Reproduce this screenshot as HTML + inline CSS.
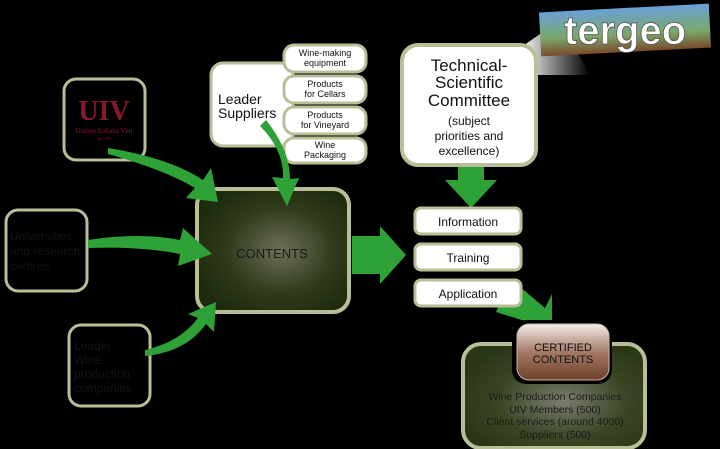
<!DOCTYPE html>
<html><head><meta charset="utf-8"><style>
html,body{margin:0;padding:0;background:#000;}
svg{display:block;}
</style></head><body>
<svg width="720" height="449" viewBox="0 0 720 449" xmlns="http://www.w3.org/2000/svg" font-family="Liberation Sans, sans-serif">
<defs>
<radialGradient id="cg" cx="0.55" cy="0.5" r="0.6">
<stop offset="0" stop-color="#6d6f58"/><stop offset="0.6" stop-color="#2f3a1a"/><stop offset="1" stop-color="#1e2a0e"/></radialGradient>
<radialGradient id="bg2" cx="0.55" cy="0.55" r="0.6">
<stop offset="0" stop-color="#7a7d6e"/><stop offset="0.6" stop-color="#3a4524"/><stop offset="1" stop-color="#2a3716"/></radialGradient>
<linearGradient id="br" x1="0" y1="0" x2="0" y2="1">
<stop offset="0" stop-color="#f4eeea"/><stop offset="0.5" stop-color="#a47a66"/><stop offset="1" stop-color="#6e3f2a"/></linearGradient>
<linearGradient id="tail" x1="0" y1="0" x2="1" y2="0">
<stop offset="0" stop-color="#fff"/><stop offset="1" stop-color="#000"/></linearGradient>
<linearGradient id="sky" x1="0" y1="0" x2="0" y2="1">
<stop offset="0" stop-color="#6aa0d8"/><stop offset="0.6" stop-color="#7aa86a"/><stop offset="1" stop-color="#7a4a2a"/></linearGradient>
</defs>
<!-- source boxes -->
<rect x="64" y="79" width="81" height="81" rx="12" fill="#000" stroke="#b8bf97" stroke-width="3"/>
<text x="104" y="120" font-family="Liberation Serif, serif" font-size="28" fill="#8a1730" text-anchor="middle" font-weight="bold">UIV</text>
<text x="104" y="133" font-family="Liberation Serif, serif" font-size="7" fill="#8a1730" text-anchor="middle">Unione Italiana Vini</text>
<text x="104" y="140" font-family="Liberation Serif, serif" font-size="4" fill="#8a1730" text-anchor="middle">dal 1895</text>
<rect x="6" y="210" width="81" height="81" rx="12" fill="#000" stroke="#b8bf97" stroke-width="3"/>
<text font-size="12" fill="#141414"><tspan x="10" y="240">Universities</tspan><tspan x="10" y="255">and research</tspan><tspan x="10" y="270">centres</tspan></text>
<rect x="69" y="325" width="81" height="81" rx="12" fill="#000" stroke="#b8bf97" stroke-width="3"/>
<text font-size="12" fill="#141414"><tspan x="74" y="350">Leader</tspan><tspan x="74" y="364">Wine</tspan><tspan x="74" y="378">production</tspan><tspan x="74" y="392">companies</tspan></text>
<!-- suppliers -->
<rect x="211" y="63" width="82" height="83" rx="12" fill="#fff" stroke="#b8bf97" stroke-width="3"/>
<text font-size="14" fill="#111"><tspan x="218" y="104">Leader</tspan><tspan x="218" y="118">Suppliers</tspan></text>
<g font-size="9" fill="#111" text-anchor="middle">
<rect x="284" y="45" width="82" height="27" rx="10" fill="#fff" stroke="#b8bf97" stroke-width="3"/>
<text x="325" y="56">Wine-making</text><text x="325" y="66">equipment</text>
<rect x="284" y="76" width="82" height="27" rx="10" fill="#fff" stroke="#b8bf97" stroke-width="3"/>
<text x="325" y="87">Products</text><text x="325" y="97">for Cellars</text>
<rect x="284" y="107" width="82" height="27" rx="10" fill="#fff" stroke="#b8bf97" stroke-width="3"/>
<text x="325" y="118">Products</text><text x="325" y="128">for Vineyard</text>
<rect x="284" y="138" width="82" height="25" rx="10" fill="#fff" stroke="#b8bf97" stroke-width="3"/>
<text x="325" y="148">Wine</text><text x="325" y="158">Packaging</text>
</g>
<!-- contents -->
<rect x="197" y="189" width="152" height="123" rx="16" fill="url(#cg)" stroke="#b8bf97" stroke-width="4"/>
<text x="272" y="258" font-size="13" fill="#1a1a1a" text-anchor="middle">CONTENTS</text>
<!-- green arrows -->
<g fill="#2ea236">
<path d="M108 148 Q170 158 203 180 L211 168 L218 202 L186 198 L195 188 Q165 170 108 154 Z"/>
<path d="M88 240 Q140 232 180 240 L183 228 L212 254 L178 266 L180 254 Q140 246 88 248 Z"/>
<path d="M145 350 Q180 342 198 318 L188 314 L216 302 L214 332 L206 324 Q186 352 145 356 Z"/>
<path d="M260 126 Q284 150 283 178 L272 177 L287 206 L299 178 L290 179 Q290 150 266 120 Z"/>
<path d="M352 236 L380 236 L380 226 L406 255 L380 284 L380 274 L352 274 Z"/>
<path d="M458 162 L484 162 L484 180 L497 180 L471 208 L445 180 L458 180 Z"/>
<path d="M505 290 L520 287 L545 308 L552 294 L552 338 L512 328 L528 322 L496 312 Z"/>
</g>
<!-- technical committee -->
<path d="M520 48 L560 20 L590 75 L530 75 Z" fill="url(#tail)"/>
<rect x="402" y="45" width="134" height="120" rx="16" fill="#fff" stroke="#b8bf97" stroke-width="4"/>
<g text-anchor="middle" fill="#111">
<text x="469" y="71" font-size="17">Technical-</text>
<text x="469" y="88" font-size="17">Scientific</text>
<text x="469" y="106" font-size="17">Committee</text>
<text x="469" y="125" font-size="12">(subject</text>
<text x="469" y="140" font-size="12">priorities and</text>
<text x="469" y="155" font-size="12">excellence)</text>
</g>
<!-- info boxes -->
<g font-size="12" fill="#111" text-anchor="middle">
<rect x="415" y="208" width="106" height="26" rx="6" fill="#fff" stroke="#b8bf97" stroke-width="3"/>
<text x="468" y="226">Information</text>
<rect x="415" y="244" width="106" height="26" rx="6" fill="#fff" stroke="#b8bf97" stroke-width="3"/>
<text x="468" y="262">Training</text>
<rect x="415" y="280" width="106" height="26" rx="6" fill="#fff" stroke="#b8bf97" stroke-width="3"/>
<text x="468" y="298">Application</text>
</g>
<!-- bottom -->
<rect x="463" y="344" width="182" height="104" rx="18" fill="url(#bg2)" stroke="#b8bf97" stroke-width="4"/>
<rect x="512" y="320" width="100" height="64" rx="14" fill="#000"/>
<rect x="517" y="324" width="92" height="56" rx="12" fill="url(#br)" stroke="#c8b8a8" stroke-width="1"/>
<text x="563" y="351" font-size="11" fill="#111" text-anchor="middle">CERTIFIED</text>
<text x="563" y="363" font-size="11" fill="#111" text-anchor="middle">CONTENTS</text>
<g font-size="10.5" fill="#1a1a1a" text-anchor="middle">
<text x="555" y="400">Wine Production Companies</text>
<text x="555" y="413">UIV Members (500)</text>
<text x="555" y="425">Client services (around 4000)</text>
<text x="555" y="438">Suppliers (500)</text>
</g>
<!-- logo -->
<rect x="540" y="8" width="170" height="44" fill="url(#sky)" transform="rotate(-3 625 30)"/>
<text x="625" y="44" font-size="40" font-weight="bold" fill="#fff" text-anchor="middle" stroke="#555" stroke-width="0.8">tergeo</text>
</svg>
</body></html>
